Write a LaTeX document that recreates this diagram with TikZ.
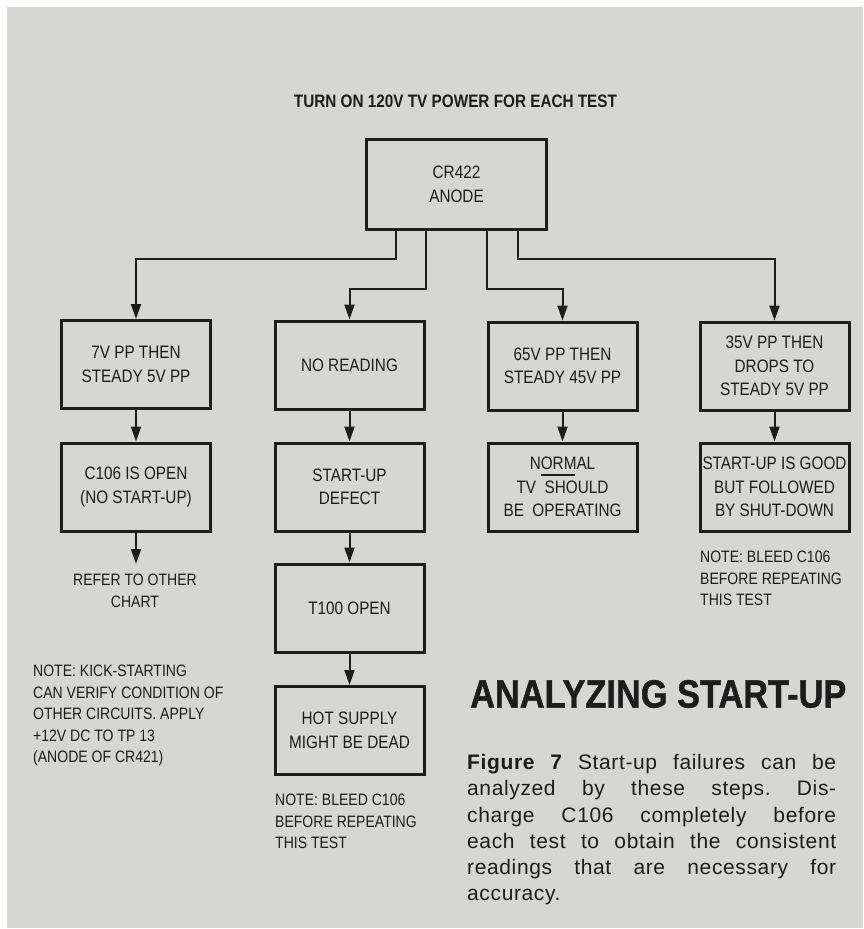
\documentclass[tikz,border=0pt]{standalone}
\usepackage{fontspec}
\setmainfont{Liberation Sans}
\newfontfamily\condf[FakeStretch=0.85]{Liberation Sans}
\newfontfamily\headf[FakeStretch=0.87,FakeBold=1]{Liberation Sans}
\newfontfamily\capf[LetterSpace=3]{Liberation Sans}
\usetikzlibrary{arrows.meta}
\setlength{\parindent}{0pt}
\frenchspacing
\definecolor{bg}{RGB}{214,215,212}
\definecolor{ink}{RGB}{28,28,28}
\begin{document}
\begin{tikzpicture}[x=1pt,y=-1pt,
  box/.style={draw=ink, line width=3pt, minimum width=149pt, minimum height=88pt,
    inner sep=0pt, align=center, text=ink, font=\condf\fontsize{18}{23.5}\selectfont},
  arr/.style={draw=ink, line width=2pt, -{Triangle[width=10pt,length=15pt]}},
  note/.style={inner sep=0pt, align=left, text=ink, font=\condf\fontsize{16.5}{21.5}\selectfont},
]
\fill[white] (0,0) rectangle (863,929);
\fill[bg] (7,7) rectangle (863,928);
\useasboundingbox (0,0) rectangle (863,929);

\node[inner sep=0pt, text=ink, font=\condf\bfseries\fontsize{18}{22}\selectfont] (title) at (455.5,101.5) {TURN ON 120V TV POWER FOR EACH TEST};

\node[box, minimum width=180pt, minimum height=90pt] (A) at (456.5,184.5) {CR422\\ANODE};

\node[box] (B1) at (136,364.5) {7V PP THEN\\STEADY 5V PP};
\node[box] (B2) at (349.5,365) {NO READING};
\node[box] (B3) at (562.5,366) {65V PP THEN\\STEADY 45V PP};
\node[box] (B4) at (774.5,366) {35V PP THEN\\DROPS TO\\STEADY 5V PP};

\node[box] (C1) at (136,487) {C106 IS OPEN\\(NO START-UP)};
\node[box] (C2) at (349.5,487) {START-UP\\DEFECT};
\node[box] (C3) at (562.5,487) {NORMAL\\TV\ \ SHOULD\\BE\ \ OPERATING};
\node[box] (C4) at (774.5,487) {START-UP IS GOOD\\BUT FOLLOWED\\BY SHUT-DOWN};

\node[box] (D2) at (349.5,608) {T100 OPEN};
\node[box] (E2) at (349.5,730.5) {HOT SUPPLY\\MIGHT BE DEAD};

\draw[ink, line width=1.5pt] (541,475) -- (575,475);

\draw[arr] ([xshift=-60.5pt]A.south) -- ++(0,28) -| (B1.north);
\draw[arr] ([xshift=-31pt]A.south) -- ++(0,58) -| (B2.north);
\draw[arr] ([xshift=30.5pt]A.south) -- ++(0,58) -| (B3.north);
\draw[arr] ([xshift=61.5pt]A.south) -- ++(0,28) -| (B4.north);

\draw[arr] (B1.south) -- (C1.north);
\draw[arr] (B2.south) -- (C2.north);
\draw[arr] (B3.south) -- (C3.north);
\draw[arr] (B4.south) -- (C4.north);
\draw[arr] (C2.south) -- (D2.north);
\draw[arr] (D2.south) -- (E2.north);

\coordinate (r) at (136,564);
\draw[arr] (C1.south) -- (r);

\node[note, align=center] (refer) at (135,591) {REFER TO OTHER\\CHART};

\node[note, anchor=north west] (n1) at (33,665) {NOTE: KICK-STARTING\\CAN VERIFY CONDITION OF\\OTHER CIRCUITS. APPLY\\+12V DC TO TP 13\\(ANODE OF CR421)};
\node[note, anchor=north west] (n2) at (275,794) {NOTE: BLEED C106\\BEFORE REPEATING\\THIS TEST};
\node[note, anchor=north west] (n3) at (700,551) {NOTE: BLEED C106\\BEFORE REPEATING\\THIS TEST};

\node[anchor=west, inner sep=0pt, text=ink, font=\headf\bfseries\fontsize{39.5}{44}\selectfont] (head) at (470,694) {ANALYZING START-UP};

\node[anchor=north west, inner sep=0pt, text width=369pt, align=justify, text=ink,
  font=\capf\fontsize{21}{26.3}\selectfont] (cap) at (467,754)
  {{\bfseries Figure 7} Start-up failures can be\linebreak analyzed by these steps. Dis-\linebreak charge C106 completely before\linebreak each test to obtain the consistent\linebreak readings that are necessary for\linebreak accuracy.};
\end{tikzpicture}
\end{document}
